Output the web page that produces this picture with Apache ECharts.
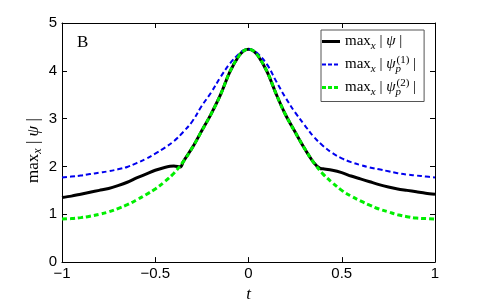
<!DOCTYPE html>
<html>
<head>
<meta charset="utf-8">
<script src="https://cdn.jsdelivr.net/npm/echarts@6/dist/echarts.min.js"></script>
<style>html,body{margin:0;padding:0;background:#fff}#c{width:480px;height:308px}</style>
</head>
<body>
<div id="c"></div>
<script>
// t grid shared by blue and green series
const tGrid = [-1,-0.95,-0.9,-0.85,-0.8,-0.75,-0.7,-0.65,-0.6,-0.55,-0.5,-0.45,-0.4,-0.35,-0.3,-0.25,-0.2,-0.15,-0.1,-0.05,-0.025,0,
  0.025,0.05,0.1,0.15,0.2,0.25,0.3,0.35,0.4,0.45,0.5,0.55,0.6,0.65,0.7,0.75,0.8,0.85,0.9,0.95,1];
const psiP1 = [1.77,1.79,1.81,1.84,1.87,1.9,1.94,1.99,2.07,2.16,2.27,2.39,2.53,2.72,2.95,3.27,3.55,3.87,4.15,4.36,4.43,4.45,
  4.43,4.36,4.13,3.77,3.43,3.13,2.87,2.62,2.43,2.28,2.17,2.09,2.03,1.98,1.94,1.9,1.86,1.83,1.81,1.79,1.77];
const psiP2 = [0.9,0.91,0.93,0.96,1.0,1.05,1.12,1.2,1.3,1.41,1.53,1.68,1.86,2.1,2.4,2.75,3.1,3.5,3.98,4.32,4.42,4.45,
  4.42,4.32,3.98,3.5,3.07,2.72,2.38,2.08,1.84,1.66,1.5,1.38,1.28,1.19,1.11,1.05,0.99,0.95,0.92,0.91,0.9];
// full solution: own t grid including the two kink points
const tFull = [-1,-0.95,-0.9,-0.85,-0.8,-0.75,-0.7,-0.65,-0.6,-0.55,-0.5,-0.45,-0.4,-0.365,-0.35,-0.3,-0.25,-0.2,-0.15,-0.1,-0.05,-0.025,0,
  0.025,0.05,0.1,0.15,0.2,0.25,0.3,0.35,0.383,0.4,0.45,0.5,0.55,0.6,0.65,0.7,0.75,0.8,0.85,0.9,0.95,1];
const psiFull = [1.35,1.38,1.42,1.46,1.5,1.54,1.6,1.67,1.76,1.84,1.92,1.98,2.01,1.99,2.1,2.4,2.75,3.1,3.5,3.98,4.32,4.42,4.45,
  4.42,4.32,3.98,3.5,3.07,2.72,2.38,2.08,1.96,1.95,1.92,1.87,1.8,1.74,1.68,1.62,1.57,1.53,1.5,1.47,1.44,1.42];
const xTicks = [-1,-0.5,0,0.5,1];
const yTicks = [0,1,2,3,4,5];
const panelLabel = 'B';

const pair = (xs, ys) => xs.map((x, i) => [x, ys[i]]);
const fmtNum = v => (v < 0 ? '\u2212' + String(-v) : String(v));

const serif = 'Liberation Serif';
const sans = 'Liberation Sans';
const mkRich = (fs) => {
  const small = Math.round(fs * 0.7);
  return {
    n: {fontFamily: serif, fontSize: fs, color: '#000', verticalAlign: 'middle', lineHeight: 20},
    i: {fontFamily: serif, fontSize: fs, fontStyle: 'italic', color: '#000', verticalAlign: 'middle', lineHeight: 20},
    s: {fontFamily: serif, fontSize: small, fontStyle: 'italic', color: '#000', verticalAlign: 'bottom', lineHeight: 13},
    sp: {fontFamily: serif, fontSize: small, fontStyle: 'italic', color: '#000', verticalAlign: 'bottom', lineHeight: 13, width: 1},
    u: {fontFamily: serif, fontSize: small, color: '#000', verticalAlign: 'top', lineHeight: 13}
  };
};
const lbl = sub => '{n|max}{s|x}{n| | }{i|ψ}' + sub + '{n| |}';
const legendNames = {
  full: lbl(''),
  p1: lbl('{sp|p}{u|(1)}'),
  p2: lbl('{sp|p}{u|(2)}')
};

const chart = echarts.init(document.getElementById('c'), null, {renderer: 'canvas'});
const axisLine = {show: true, onZero: false, lineStyle: {color: '#000', width: 1}};
const tick = {show: true, inside: true, length: 5, lineStyle: {color: '#000', width: 1}};
chart.setOption({
  animation: false,
  backgroundColor: '#fff',
  grid: {left: 62, right: 45, top: 23, bottom: 35},
  xAxis: [{
    type: 'value', min: -1, max: 1, interval: 0.5,
    axisLine, axisTick: tick, splitLine: {show: false},
    axisLabel: {fontFamily: sans, fontSize: 15, color: '#000', margin: 4, formatter: fmtNum},
    name: 't', nameLocation: 'middle', nameGap: 20,
    nameTextStyle: {fontFamily: serif, fontStyle: 'italic', fontSize: 17, color: '#000'}
  }, {
    type: 'value', min: -1, max: 1, interval: 0.5, position: 'top',
    axisLine, axisTick: tick, axisLabel: {show: false}, splitLine: {show: false}
  }],
  yAxis: [{
    type: 'value', min: 0, max: 5, interval: 1,
    axisLine, axisTick: tick, splitLine: {show: false},
    axisLabel: {fontFamily: sans, fontSize: 15, color: '#000', margin: 5, formatter: fmtNum},
    name: lbl(''), nameLocation: 'middle', nameGap: 18, nameRotate: 90,
    nameMoveOverlap: false,
    nameTextStyle: {rich: mkRich(17), padding: [0, 16, 0, 0]}
  }, {
    type: 'value', min: 0, max: 5, interval: 1, position: 'right',
    axisLine, axisTick: tick, axisLabel: {show: false}, splitLine: {show: false}
  }],
  legend: {
    orient: 'vertical', left: 321, top: 30,
    data: [
      {name: 'full', icon: 'path://M0,0h18v3h-18z'},
      {name: 'p1', icon: 'path://M0,0h4v2h-4z M6,0h4v2h-4z M12,0h4v2h-4z M18,0h0v2h0z'},
      {name: 'p2', icon: 'path://M0,0h4v3h-4z M6,0h4v3h-4z M12,0h4v3h-4z M18,0h0v3h0z'}
    ],
    formatter: name => legendNames[name],
    textStyle: {rich: mkRich(15)},
    itemWidth: 18, itemHeight: 3, itemGap: 3,
    itemStyle: {borderWidth: 0},
    backgroundColor: '#fff', borderColor: '#555', borderWidth: 1,
    padding: [4, 8, 4, 1]
  },
  graphic: [{
    type: 'text', left: 77, top: 34,
    style: {text: panelLabel, fontFamily: serif, fontSize: 17, fill: '#000'}
  }],
  series: [
    {name: 'full', type: 'line', data: pair(tFull, psiFull), showSymbol: false, symbol: 'none', smooth: 0.3,
     lineStyle: {color: '#000', width: 3}, itemStyle: {color: '#000'}},
    {name: 'p1', type: 'line', data: pair(tGrid, psiP1), showSymbol: false, symbol: 'none', smooth: 0.4,
     lineStyle: {color: '#0000ee', width: 2, type: [5, 3]}, itemStyle: {color: '#0000ee'}},
    {name: 'p2', type: 'line', data: pair(tGrid, psiP2), showSymbol: false, symbol: 'none', smooth: 0.4,
     lineStyle: {color: '#00ee00', width: 3, type: [5, 3]}, itemStyle: {color: '#00ee00'}}
  ]
});
</script>
</body>
</html>
